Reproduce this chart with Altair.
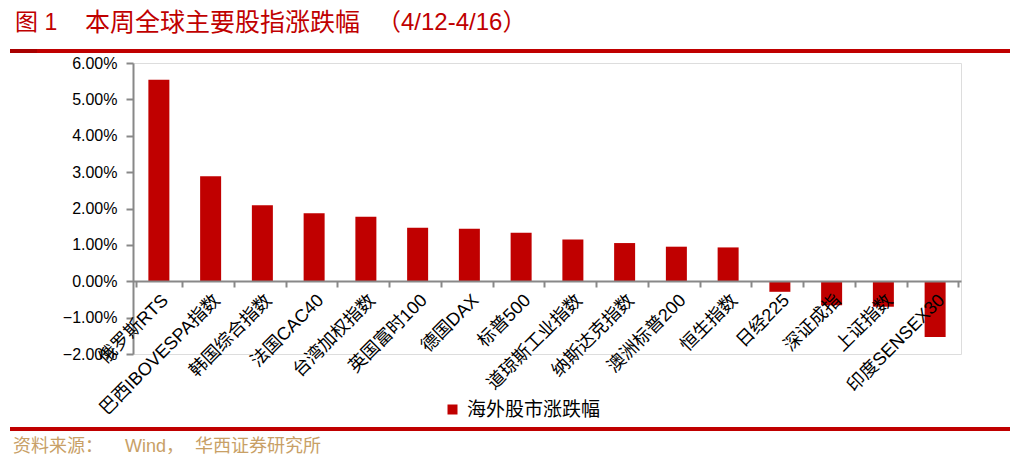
import altair as alt
import pandas as pd

categories = ["俄罗斯RTS", "巴西IBOVESPA指数", "韩国综合指数", "法国CAC40", "台湾加权指数",
              "英国富时100", "德国DAX", "标普500", "道琼斯工业指数", "纳斯达克指数",
              "澳洲标普200", "恒生指数", "日经225", "深证成指", "上证指数", "印度SENSEX30"]
values = [0.0554, 0.0289, 0.0209, 0.0187, 0.0177, 0.0147, 0.0144, 0.0133, 0.0115, 0.0105,
          0.0095, 0.0093, -0.0029, -0.0066, -0.0070, -0.0153]
series_name = "海外股市涨跌幅"
y_ticks = [-0.02, -0.01, 0.0, 0.01, 0.02, 0.03, 0.04, 0.05, 0.06]
title_parts = ["图 1", "本周全球主要股指涨跌幅", "（4/12-4/16）"]
source_parts = ["资料来源：", "Wind，", "华西证券研究所"]

FONT = "Liberation Sans, Noto Sans CJK SC"
RED = "#c00000"
TAN = "#c8a066"

df = pd.DataFrame({"cat": categories, "val": values, "series": series_name})

W, H = 828, 291

bars = alt.Chart(df).mark_bar(size=21, color=RED).encode(
    x=alt.X("cat:N", sort=None, title=None,
            axis=alt.Axis(labelAngle=-45, labelFont=FONT, labelFontSize=18, labelColor="#000",
                          domainColor="#888888", domainWidth=2, tickColor="#888888", tickWidth=2,
                          tickSize=6, tickBand="extent", labelPadding=4, offset=-73,
                          labelLimit=300, zindex=1)),
    y=alt.Y("val:Q", title=None,
            scale=alt.Scale(domain=[-0.02, 0.06], nice=False, zero=False),
            axis=alt.Axis(values=y_ticks, format=".2%", labelFont=FONT, labelFontSize=16,
                          labelColor="#000", domainColor="#888888", domainWidth=2,
                          tickColor="#888888", tickWidth=2, tickSize=7, labelPadding=9,
                          grid=False)),
    color=alt.Color("series:N", scale=alt.Scale(range=[RED]),
                    legend=alt.Legend(title=None, orient="none", legendX=310, legendY=337,
                                      symbolType="square", symbolSize=100, symbolStrokeWidth=0,
                                      labelFont=FONT, labelFontSize=19, labelColor="#000",
                                      labelOffset=5, symbolOffset=0)),
)


def text_piece(s, x, y, size, color):
    d = pd.DataFrame({"t": [s]})
    return alt.Chart(d).mark_text(align="left", baseline="middle", font=FONT,
                                  fontSize=size, color=color).encode(
        text="t:N", x=alt.value(x), y=alt.value(y))


t1 = text_piece(title_parts[0], -118, -40, 23, RED)
t2 = text_piece(title_parts[1], -48, -40, 25, RED)
t3 = text_piece(title_parts[2], 244, -40, 24, RED)

s1 = text_piece(source_parts[0], -120, 384, 18, TAN)
s2 = text_piece(source_parts[1], -8, 384, 18, TAN)
s3 = text_piece(source_parts[2], 62, 384, 18, TAN)

one = pd.DataFrame({"t": [0]})
top_line = alt.Chart(one).mark_rule(color=RED, strokeWidth=4).encode(
    x=alt.value(-123), x2=alt.value(880), y=alt.value(-12))
top_dark = alt.Chart(one).mark_rule(color="#a80000", strokeWidth=4).encode(
    x=alt.value(-123), x2=alt.value(-96), y=alt.value(-12))
bottom_line = alt.Chart(one).mark_rule(color=RED, strokeWidth=4).encode(
    x=alt.value(-123), x2=alt.value(880), y=alt.value(366))

chart = alt.layer(bars, t1, t2, t3, s1, s2, s3, top_line, top_dark, bottom_line).properties(
    width=W, height=H,
    autosize=alt.AutoSizeParams(type="none"),
    padding={"left": 125, "top": 55, "right": 49, "bottom": 101},
).configure_view(stroke=None).configure(background="white")

chart.save("out.html", embed_options={"renderer": "svg", "actions": False})
